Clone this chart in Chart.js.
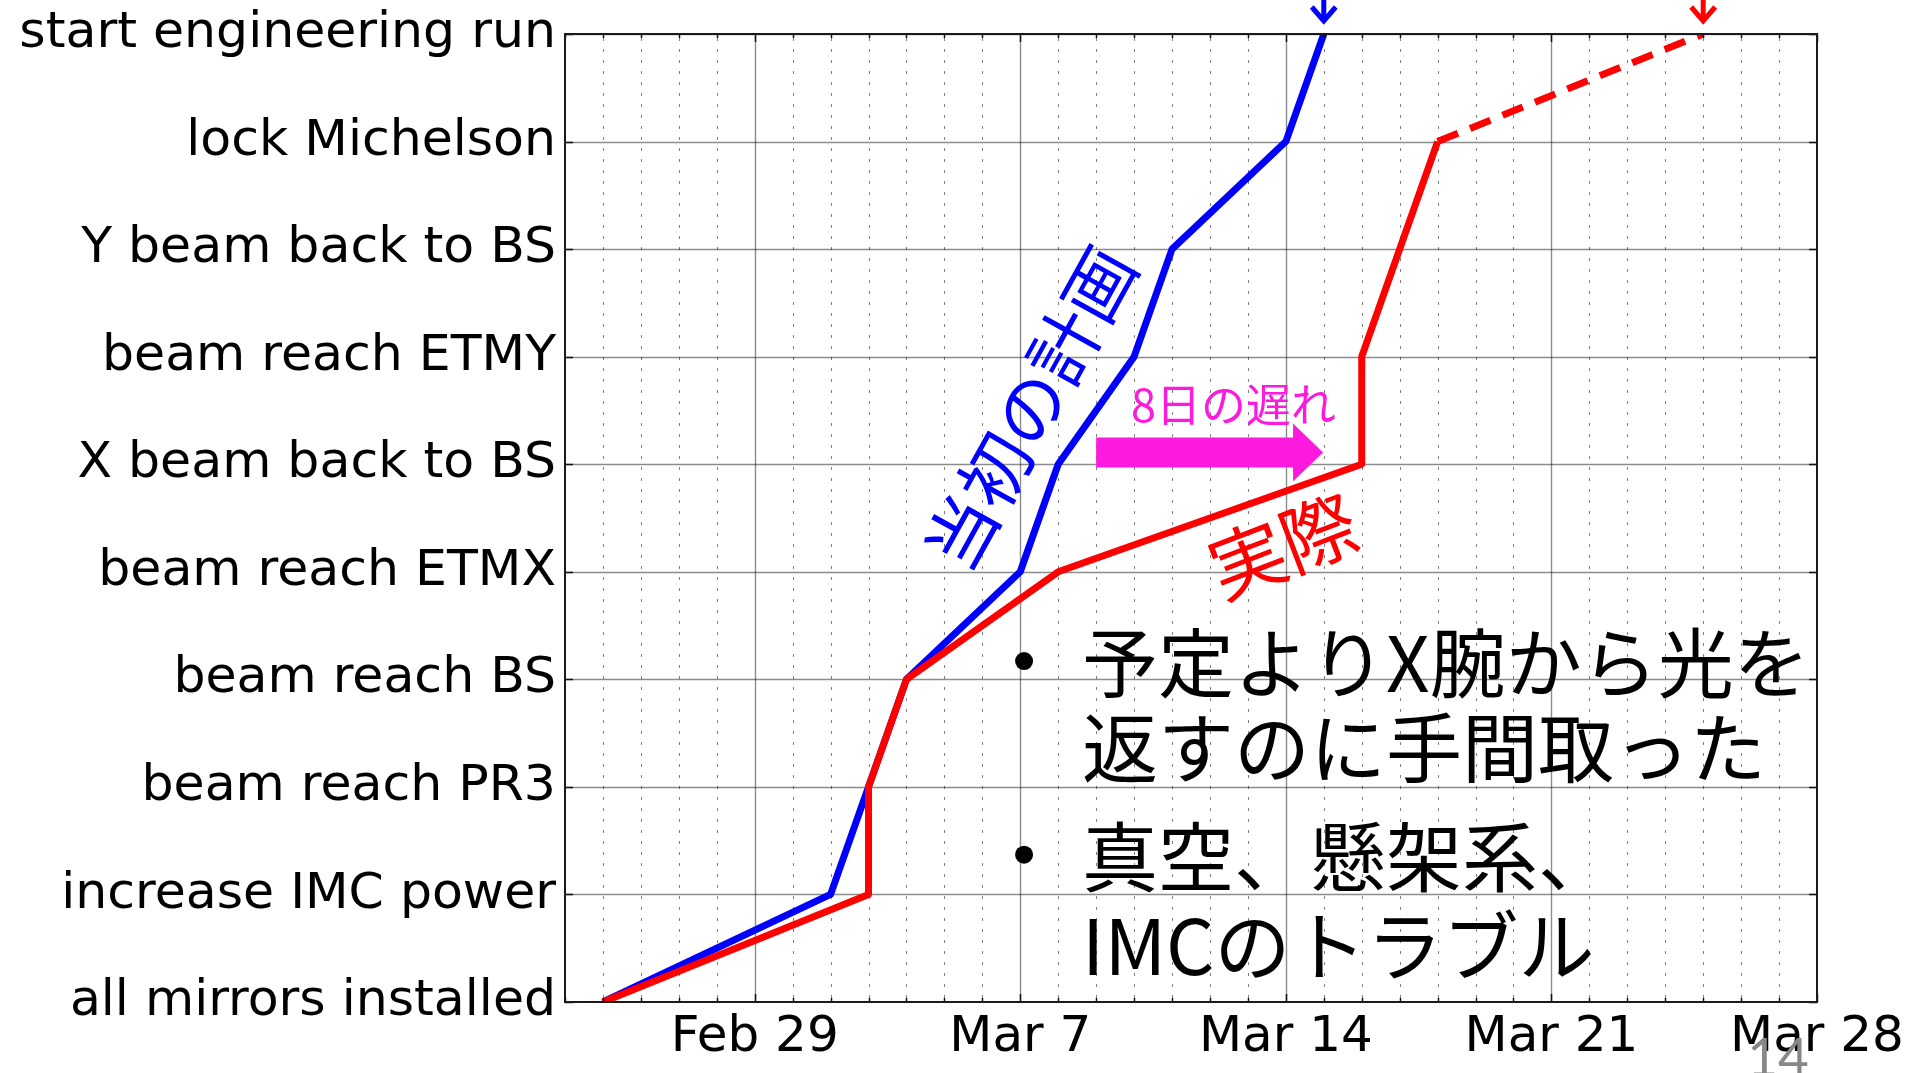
<!DOCTYPE html>
<html>
<head>
<meta charset="utf-8">
<script src="https://cdn.jsdelivr.net/npm/chart.js@4.4.1/dist/chart.umd.min.js"></script>
<style>
html,body{margin:0;padding:0;background:#fff;overflow:hidden}
#wrap{width:1907px;height:1073px;position:relative}
</style>
</head>
<body>
<div id="wrap"><canvas id="c" width="1907" height="1073"></canvas></div>
<script>
// ---------------- data ----------------
const milestones = [
  'all mirrors installed',
  'increase IMC power',
  'beam reach PR3',
  'beam reach BS',
  'beam reach ETMX',
  'X beam back to BS',
  'beam reach ETMY',
  'Y beam back to BS',
  'lock Michelson',
  'start engineering run'
];
const plannedDates = ['2016-02-25','2016-03-02','2016-03-03','2016-03-04','2016-03-07','2016-03-08','2016-03-10','2016-03-11','2016-03-14','2016-03-15'];
const actualDates  = ['2016-02-25','2016-03-03','2016-03-03','2016-03-04','2016-03-08','2016-03-16','2016-03-16','2016-03-17','2016-03-18','2016-03-25'];
const xStart = '2016-02-24';
const xEnd = '2016-03-28';
const majorTickDates  = ['2016-02-29','2016-03-07','2016-03-14','2016-03-21','2016-03-28'];
const majorTickLabels = ['Feb 29','Mar 7','Mar 14','Mar 21','Mar 28'];
const forecastFromIndex = 8; // actual line is a forecast (dashed) after 'lock Michelson'

// ---------------- derived ----------------
const toDay = d => Math.round((Date.parse(d) - Date.parse(xStart)) / 864e5);
const plannedData = plannedDates.map((d, i) => ({x: toDay(d), y: i}));
const actualData  = actualDates.map((d, i) => ({x: toDay(d), y: i}));
const majorDays = majorTickDates.map(toDay);
const xMax = toDay(xEnd);

const JP = '"Noto Sans CJK JP", "Noto Sans CJK SC", sans-serif';
const LAT = '"DejaVu Sans", sans-serif';

const gridPlugin = {
  id: 'gridPlugin',
  beforeDatasetsDraw(chart) {
    const {ctx, chartArea: a, scales: {x, y}} = chart;
    ctx.save();
    ctx.beginPath(); ctx.rect(a.left, a.top, a.right - a.left, a.bottom - a.top); ctx.clip();
    // minor (daily) dotted lines
    ctx.strokeStyle = 'rgba(0,0,0,0.5)';
    ctx.lineWidth = 1;
    ctx.setLineDash([3, 8]);
    for (let d = 0; d <= xMax; d++) {
      if (majorDays.includes(d)) continue;
      const px = Math.round(x.getPixelForValue(d)) + 0.5;
      ctx.beginPath(); ctx.moveTo(px, a.top + 4); ctx.lineTo(px, a.bottom); ctx.stroke();
    }
    ctx.setLineDash([]);
    ctx.strokeStyle = 'rgba(0,0,0,0.45)';
    ctx.lineWidth = 1.4;
    majorDays.forEach(d => {
      const px = Math.round(x.getPixelForValue(d)) + 0.5;
      ctx.beginPath(); ctx.moveTo(px, a.top); ctx.lineTo(px, a.bottom); ctx.stroke();
    });
    milestones.forEach((_, i) => {
      const py = Math.round(y.getPixelForValue(i)) + 0.5;
      ctx.beginPath(); ctx.moveTo(a.left, py); ctx.lineTo(a.right, py); ctx.stroke();
    });
    ctx.restore();
  },
  afterDatasetsDraw(chart) {
    const {ctx, chartArea: a, scales: {x, y}} = chart;
    ctx.save();
    // inner ticks
    ctx.strokeStyle = '#111';
    ctx.lineWidth = 1.5;
    for (let d = 0; d <= xMax; d++) {
      const px = Math.round(x.getPixelForValue(d)) + 0.5;
      const len = majorDays.includes(d) ? 8 : 4;
      ctx.beginPath();
      ctx.moveTo(px, a.top); ctx.lineTo(px, a.top + len);
      ctx.moveTo(px, a.bottom); ctx.lineTo(px, a.bottom - len);
      ctx.stroke();
    }
    milestones.forEach((_, i) => {
      const py = Math.round(y.getPixelForValue(i)) + 0.5;
      ctx.beginPath();
      ctx.moveTo(a.left, py); ctx.lineTo(a.left + 8, py);
      ctx.moveTo(a.right, py); ctx.lineTo(a.right - 8, py);
      ctx.stroke();
    });
    // frame
    ctx.strokeStyle = '#1a1a1a';
    ctx.lineWidth = 2;
    ctx.strokeRect(a.left, a.top, a.right - a.left, a.bottom - a.top);
    ctx.restore();
  }
};

const annotPlugin = {
  id: 'annotPlugin',
  afterDraw(chart) {
    const {ctx, chartArea: a, scales: {x, y}} = chart;
    const px = v => x.getPixelForValue(v);
    const py = v => y.getPixelForValue(v);
    ctx.save();

    // arrows above the top of the axes at the last point of each line
    chart.data.datasets.forEach(ds => {
      const last = ds.data[ds.data.length - 1];
      const ax = px(last.x);
      const tip = a.top - 11;
      ctx.strokeStyle = ds.borderColor;
      ctx.lineWidth = 5;
      ctx.lineCap = 'butt';
      ctx.lineJoin = 'miter';
      ctx.beginPath();
      ctx.moveTo(ax, 0); ctx.lineTo(ax, tip - 3);
      ctx.stroke();
      ctx.beginPath();
      ctx.moveTo(ax - 12, tip - 16); ctx.lineTo(ax, tip - 2); ctx.lineTo(ax + 12, tip - 16);
      ctx.stroke();
    });

    // planned label (rotated)
    ctx.save();
    ctx.translate(px(12.26), py(5.52));
    ctx.rotate(-61 * Math.PI / 180);
    ctx.fillStyle = '#0000ff';
    ctx.font = '71px ' + JP;
    ctx.textAlign = 'center'; ctx.textBaseline = 'middle';
    ctx.fillText('当初の計画', 0, 0);
    ctx.restore();

    // actual label (rotated)
    ctx.save();
    ctx.translate(px(18.93), py(4.24));
    ctx.rotate(-21 * Math.PI / 180);
    ctx.fillStyle = '#ff0000';
    ctx.font = '76px ' + JP;
    ctx.textAlign = 'center'; ctx.textBaseline = 'middle';
    ctx.fillText('実際', 0, 0);
    ctx.restore();

    // delay label + block arrow
    const mag = '#fb1ade';
    ctx.fillStyle = mag;
    ctx.font = '45px ' + JP;
    ctx.textAlign = 'center'; ctx.textBaseline = 'middle';
    ctx.fillText('8日の遅れ', px(17.62), py(5.55));
    const ay = py(5.11), x0 = px(14.0), x1 = px(19.19), x2 = px(19.98);
    ctx.beginPath();
    ctx.moveTo(x0, ay - 15); ctx.lineTo(x1, ay - 15); ctx.lineTo(x1, ay - 29);
    ctx.lineTo(x2, ay); ctx.lineTo(x1, ay + 29); ctx.lineTo(x1, ay + 15);
    ctx.lineTo(x0, ay + 15); ctx.closePath(); ctx.fill();

    // bullet text
    ctx.fillStyle = '#000';
    ctx.font = '76px ' + JP;
    ctx.textAlign = 'left'; ctx.textBaseline = 'middle';
    const tx = px(13.63);
    ctx.fillText('予定よりX腕から光を', tx, py(3.15));
    ctx.fillText('返すのに手間取った', tx, py(2.36));
    ctx.fillText('真空、懸架系、', tx, py(1.35));
    ctx.fillText('IMCのトラブル', tx, py(0.52));
    [3.17, 1.37].forEach(v => {
      ctx.beginPath(); ctx.arc(px(12.10), py(v), 9, 0, 2 * Math.PI); ctx.fill();
    });

    // page number
    ctx.fillStyle = '#888888';
    ctx.font = '53px Lato, "Open Sans", sans-serif';
    ctx.textAlign = 'center'; ctx.textBaseline = 'alphabetic';
    ctx.fillText('14', 1778, 1076);
    ctx.restore();
  }
};

new Chart(document.getElementById('c'), {
  type: 'line',
  data: {
    datasets: [
      {
        label: '実際',
        data: actualData,
        borderColor: '#ff0000',
        borderWidth: 7,
        pointRadius: 0,
        tension: 0,
        fill: false,
        order: 0,
        clip: 0,
        borderCapStyle: 'butt',
        borderJoinStyle: 'round',
        segment: {
          borderDash: ctx => ctx.p0DataIndex >= forecastFromIndex ? [22, 13] : undefined
        }
      },
      {
        label: '当初の計画',
        data: plannedData,
        borderColor: '#0000ff',
        borderWidth: 7,
        pointRadius: 0,
        tension: 0,
        fill: false,
        order: 1,
        clip: 0,
        borderCapStyle: 'butt',
        borderJoinStyle: 'round'
      }
    ]
  },
  options: {
    responsive: false,
    animation: false,
    devicePixelRatio: 1,
    layout: {padding: {top: 34, right: 90, left: 0, bottom: 0}},
    plugins: {legend: {display: false}, tooltip: {enabled: false}},
    scales: {
      x: {
        type: 'linear',
        min: 0,
        max: xMax,
        afterBuildTicks: s => { s.ticks = Array.from({length: xMax + 1}, (_, d) => ({value: d})); },
        afterFit: s => { s.height = 71; s.paddingLeft = 0; s.paddingRight = 0; },
        ticks: {
          autoSkip: false,
          maxRotation: 0,
          minRotation: 0,
          padding: 6,
          color: '#000',
          font: {family: LAT, size: 50},
          callback: v => { const k = majorDays.indexOf(v); return k >= 0 ? majorTickLabels[k] : ''; }
        },
        grid: {display: false, drawTicks: false},
        border: {display: false}
      },
      y: {
        type: 'linear',
        min: 0,
        max: milestones.length - 1,
        afterBuildTicks: s => { s.ticks = milestones.map((_, i) => ({value: i})); },
        afterFit: s => { s.width = 565; s.paddingTop = 0; s.paddingBottom = 0; },
        ticks: {
          autoSkip: false,
          padding: 9,
          color: '#000',
          font: {family: LAT, size: 50.5},
          callback: v => milestones[v]
        },
        grid: {display: false, drawTicks: false},
        border: {display: false}
      }
    }
  },
  plugins: [gridPlugin, annotPlugin]
});
</script>
</body>
</html>
